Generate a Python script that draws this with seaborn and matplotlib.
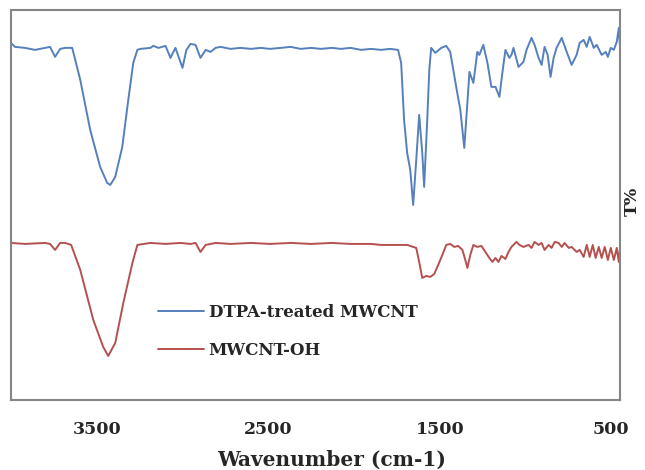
import pandas as pd
import numpy as np
import matplotlib
matplotlib.use("Agg")
import matplotlib.pyplot as plt
import seaborn as sns

# FTIR spectra (wavenumber cm-1, transmittance in arbitrary %)
dtpa_wn = [4000, 3977, 3918, 3860, 3801, 3772, 3743, 3713, 3684, 3649, 3643,
           3596, 3538, 3480, 3439, 3421, 3392, 3351, 3316, 3287, 3263, 3246,
           3187, 3170, 3140, 3099, 3070, 3041, 3000, 2977, 2953, 2924, 2895,
           2865, 2836, 2807, 2778, 2720, 2661, 2600, 2544, 2490, 2427, 2370,
           2310, 2250, 2193, 2130, 2076, 2020, 1959, 1900, 1842, 1790, 1743,
           1725, 1708, 1690, 1672, 1655, 1637, 1620, 1602, 1591, 1573, 1561,
           1550, 1526, 1491, 1462, 1439, 1421, 1398, 1380, 1357, 1339, 1327,
           1304, 1281, 1269, 1246, 1222, 1199, 1175, 1152, 1135, 1117, 1094,
           1082, 1070, 1041, 1012, 994, 965, 947, 924, 906, 889, 871, 854, 836,
           819, 789, 760, 731, 702, 684, 661, 643, 626, 602, 585, 556, 532,
           520, 503, 485, 468, 456, 450]
dtpa_t = [89.25, 88.25, 88.0, 87.5, 88.0, 88.25, 85.75, 87.75, 88.0, 88.0, 88.0,
          80.0, 67.5, 58.25, 54.25, 53.75, 55.75, 63.25, 75.0, 84.25, 87.5, 87.75,
          88.0, 88.5, 88.0, 88.5, 85.5, 88.0, 83.0, 87.5, 89.0, 88.75, 85.5,
          87.5, 87.0, 88.0, 88.25, 87.75, 88.0, 87.75, 88.0, 87.75, 88.0, 88.25,
          87.75, 88.0, 87.75, 88.0, 87.75, 88.0, 87.5, 87.75, 87.5, 87.75, 87.5,
          84.25, 70.0, 61.75, 57.5, 48.75, 60.0, 71.25, 61.75, 53.25, 70.0, 82.5,
          88.0, 86.75, 88.0, 88.5, 87.0, 82.5, 76.75, 72.5, 63.0, 74.25, 82.0,
          79.25, 87.0, 86.25, 88.75, 84.25, 78.25, 78.25, 75.75, 81.75, 87.5, 85.5,
          86.25, 88.0, 83.25, 84.5, 87.5, 90.5, 88.75, 85.5, 83.75, 88.25, 86.25, 80.75, 85.5,
          88.0, 90.5, 87.0, 83.75, 86.25, 89.25, 90.0, 88.25, 90.75, 88.0, 88.75, 86.25, 87.0,
          85.75, 88.0, 87.5, 89.5, 93.0, 88.75]

oh_wn = [4000, 3918, 3801, 3772, 3743, 3713, 3684, 3649, 3596, 3520, 3462,
         3433, 3392, 3345, 3292, 3263, 3187, 3099, 3012, 2953, 2924, 2895,
         2865, 2807, 2720, 2600, 2490, 2370, 2250, 2130, 2020, 1900, 1842,
         1690, 1637, 1620, 1602, 1579, 1555, 1532, 1509, 1485, 1462, 1439,
         1415, 1392, 1368, 1351, 1339, 1322, 1304, 1281, 1257, 1234, 1211,
         1193, 1175, 1158, 1140, 1117, 1099, 1082, 1053, 1035, 1012, 982, 965,
         947, 924, 906, 889, 865, 848, 830, 807, 789, 772, 748, 731, 702, 684,
         661, 643, 626, 608, 591, 573, 556, 538, 520, 503, 485, 468, 456, 450]
oh_t = [39.25, 39.0, 39.25, 39.0, 37.5, 39.25, 39.25, 38.75, 32.5, 20.0, 13.25,
        11.0, 14.25, 24.25, 34.25, 38.75, 39.25, 39.0, 39.25, 39.0, 39.25, 37.0,
        38.75, 39.25, 39.0, 39.25, 39.0, 39.25, 39.0, 39.25, 39.0, 39.0, 38.75,
        38.75, 38.0, 34.5, 30.5, 31.0, 30.75, 31.5, 33.75, 36.25, 38.75, 39.0,
        38.25, 38.5, 37.5, 35.0, 33.0, 36.25, 38.75, 38.25, 38.5, 37.0, 35.5,
        34.5, 35.5, 34.5, 36.0, 35.25, 37.0, 38.25, 39.5, 38.75, 38.25, 38.75, 38.0,
        39.5, 38.75, 39.25, 37.5, 38.75, 38.0, 39.5, 39.25, 38.25, 39.25, 38.0, 38.25, 37.0, 37.5,
        35.75, 38.75, 35.75, 38.75, 35.5, 38.25, 35.5, 38.25, 35.0, 38.0, 35.0, 38.0, 34.5, 37.5]

series_names = ["DTPA-treated MWCNT", "MWCNT-OH"]
x_ticks = [3500, 2500, 1500, 500]

df_dtpa = pd.DataFrame({"wn": dtpa_wn, "t": dtpa_t})
df_oh = pd.DataFrame({"wn": oh_wn, "t": oh_t})

sns.set_style("white")
plt.rcParams["font.family"] = ["DejaVu Serif"]

fig = plt.figure(figsize=(6.45, 4.70), dpi=100)
ax = fig.add_axes([0.017, 0.149, 0.944, 0.830])

sns.lineplot(data=df_dtpa, x="wn", y="t", color="#5580bb", linewidth=1.4,
             label=series_names[0], ax=ax)
sns.lineplot(data=df_oh, x="wn", y="t", color="#b5504e", linewidth=1.4,
             label=series_names[1], ax=ax)

ax.set_xlim(4000, 450)
ax.set_ylim(0, 97.5)
ax.set_xticks(x_ticks)
ax.set_xticklabels([str(v) for v in x_ticks], fontsize=12.5, fontweight="bold")
ax.set_yticks([])
ax.tick_params(axis="x", length=0, pad=15)

for sp in ax.spines.values():
    sp.set_color("#858585")
    sp.set_linewidth(1.5)

ax.set_xlabel("Wavenumber (cm-1)", fontsize=14.5, fontweight="bold")
ax.xaxis.set_label_coords(0.527, -0.128)
ax.yaxis.set_label_position("right")
ax.set_ylabel("T%", fontsize=12.5, fontweight="bold", rotation=90, va="center")
ax.yaxis.set_label_coords(1.02, 0.51)

leg = ax.legend(loc="upper left", bbox_to_anchor=(0.241, 0.247), frameon=False,
                prop={"size": 12, "weight": "bold"}, handlelength=2.75,
                handletextpad=0.3, labelspacing=1.3, borderpad=0,
                borderaxespad=0)

fig.savefig("out.png", dpi=100)
